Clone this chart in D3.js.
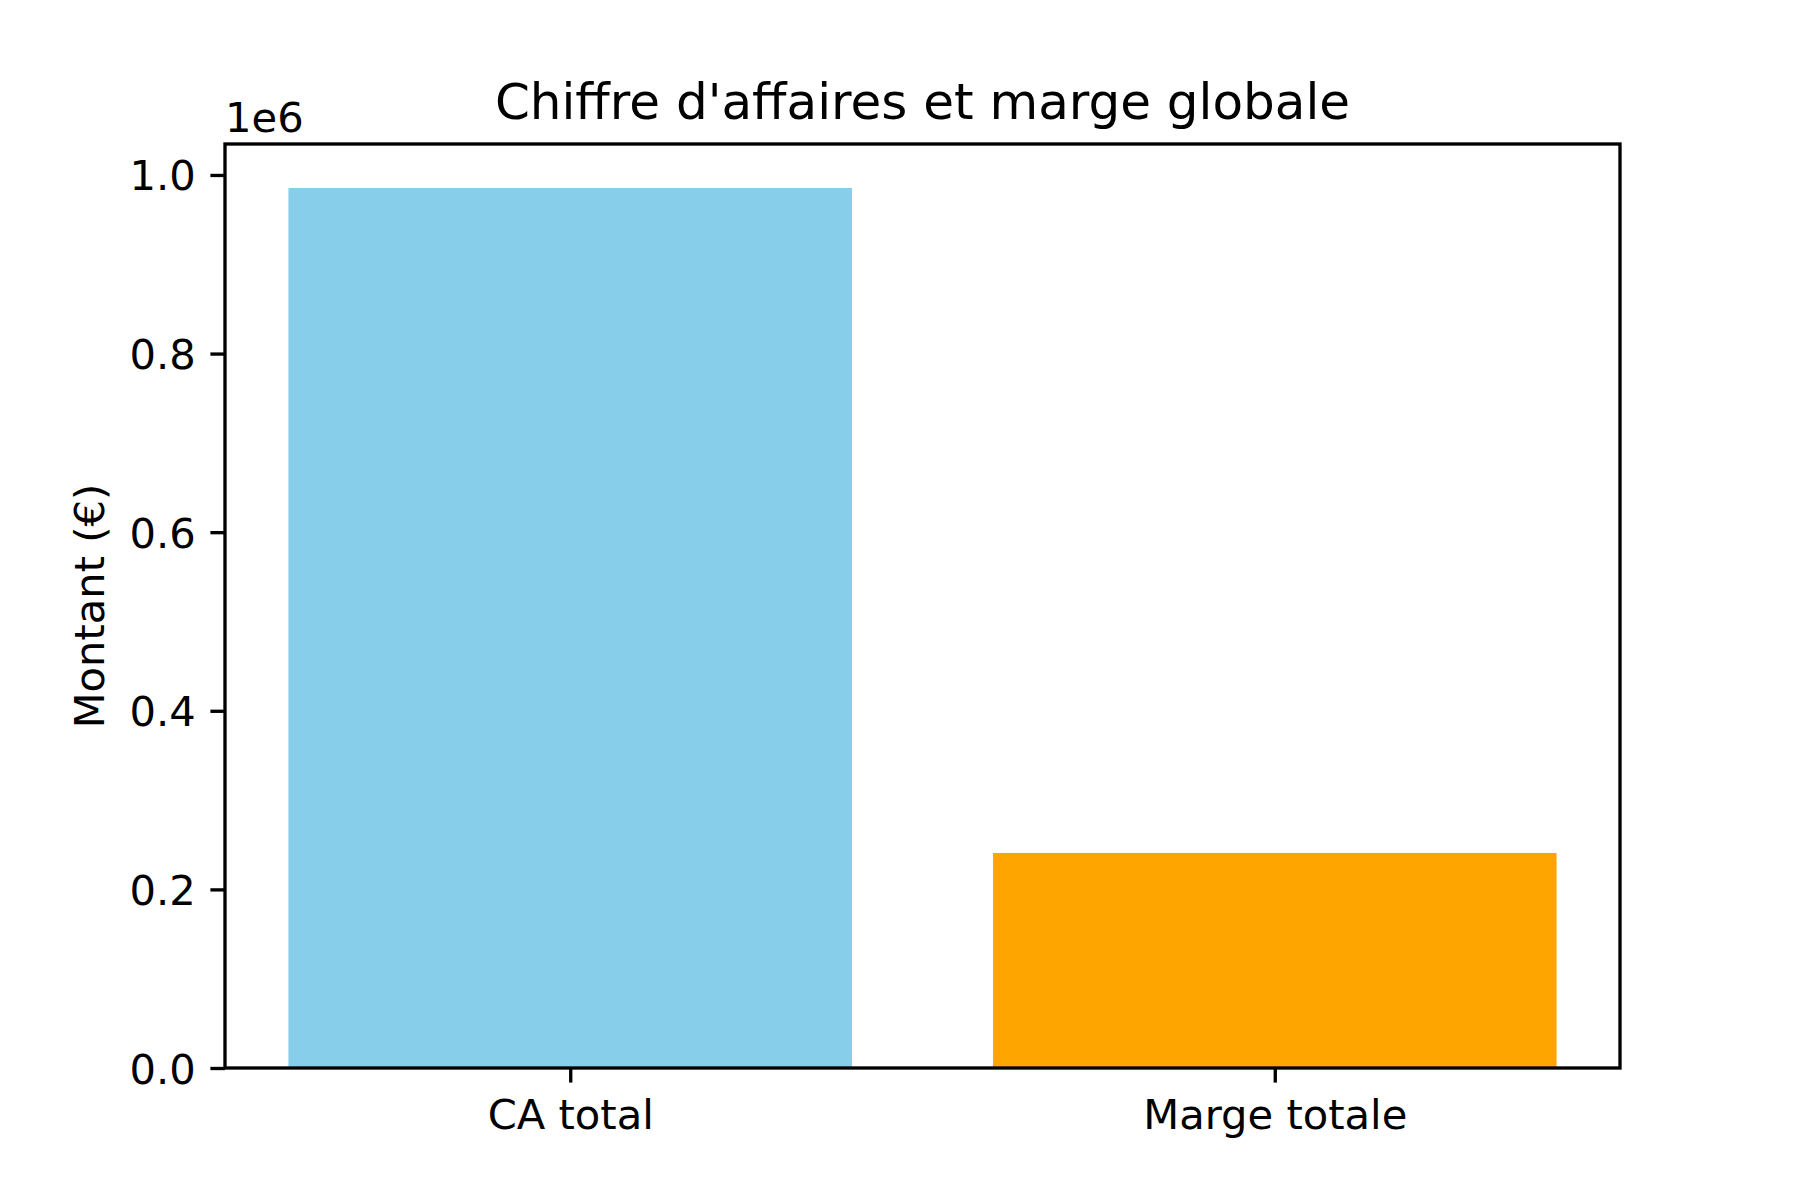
<!DOCTYPE html>
<html><head><meta charset="utf-8">
<script src="https://cdn.jsdelivr.net/npm/d3@7"></script>
<style>body{margin:0;background:#fff}svg{display:block}text{font-family:"DejaVu Sans",sans-serif;fill:#000}</style>
</head><body><svg id="c" width="1800" height="1200"></svg>
<script>
const categories = ["CA total", "Marge totale"];
const values = [985400, 240800];
const colors = ["#87CEEB", "#FFA500"];
const yTicks = [0, 0.2e6, 0.4e6, 0.6e6, 0.8e6, 1.0e6];
const yTickLabels = ["0.0", "0.2", "0.4", "0.6", "0.8", "1.0"];

const svg = d3.select("#c");
const L = 225, R = 1620, T = 144, B = 1068;
const fs = 41.67, tickLen = 14.6, pad = 14.6, lw = 3.33;

const x = d3.scaleLinear().domain([-0.49, 1.49]).range([L, R]);
const y = d3.scaleLinear().domain([0, d3.max(values) * 1.05]).range([B, T]);
const bw = 0.8;

svg.selectAll("rect.bar").data(values).enter().append("rect")
  .attr("x", (d, i) => x(i - bw / 2))
  .attr("width", (d, i) => x(i + bw / 2) - x(i - bw / 2))
  .attr("y", d => y(d))
  .attr("height", d => y(0) - y(d))
  .attr("fill", (d, i) => colors[i]);

// spines
svg.append("rect").attr("x", L).attr("y", T).attr("width", R - L).attr("height", B - T)
  .attr("fill", "none").attr("stroke", "#000").attr("stroke-width", lw).attr("stroke-linejoin", "miter");

// y axis
const yAxis = d3.axisLeft(y).tickValues(yTicks).tickFormat((d, i) => yTickLabels[i])
  .tickSize(tickLen).tickPadding(pad);
const gy = svg.append("g").attr("transform", `translate(${L},0)`).call(yAxis);
gy.select(".domain").remove();
gy.selectAll(".tick line").attr("stroke", "#000").attr("stroke-width", lw);
gy.selectAll(".tick text").attr("font-size", fs).attr("font-family", "DejaVu Sans")
  .attr("dy", null).attr("y", 15).attr("fill", "#000");

// x axis
const xAxis = d3.axisBottom(x).tickValues(categories.map((c, i) => i))
  .tickFormat((d, i) => categories[i]).tickSize(tickLen).tickPadding(pad);
const gx = svg.append("g").attr("transform", `translate(0,${B})`).call(xAxis);
gx.select(".domain").remove();
gx.selectAll(".tick line").attr("stroke", "#000").attr("stroke-width", lw);
gx.selectAll(".tick text").attr("font-size", fs).attr("font-family", "DejaVu Sans")
  .attr("dy", null).attr("y", tickLen + pad + 32).attr("fill", "#000");

// title
svg.append("text").attr("x", (L + R) / 2).attr("y", 119).attr("text-anchor", "middle")
  .attr("font-size", 50).text("Chiffre d'affaires et marge globale");

// offset text
svg.append("text").attr("x", L).attr("y", 132).attr("font-size", fs).text("1e6");

// y label
svg.append("text").attr("transform", `translate(104,${(T + B) / 2}) rotate(-90)`)
  .attr("text-anchor", "middle").attr("font-size", fs).text("Montant (€)");
</script></body></html>
